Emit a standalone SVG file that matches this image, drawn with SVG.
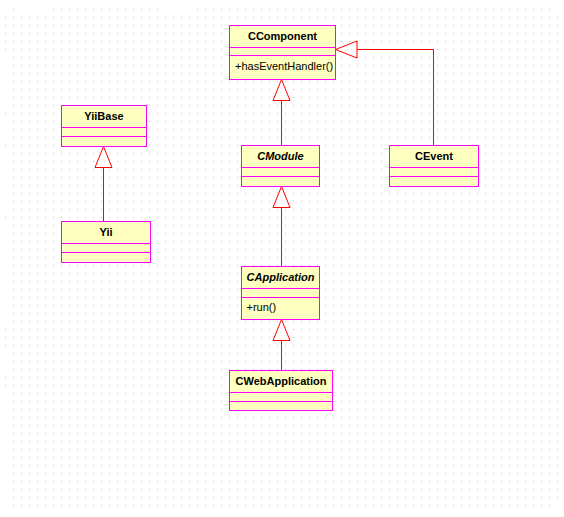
<svg xmlns="http://www.w3.org/2000/svg" width="564" height="517" viewBox="0 0 564 517">
<defs>
<pattern id="dots" x="13" y="1" width="8" height="8" patternUnits="userSpaceOnUse">
<rect x="0" y="0" width="1" height="1" fill="#c0c0c0"/>
</pattern>
<style>
.box{fill:#ffffc0;stroke:#ff00ff;stroke-width:1}
.sep{stroke:#ff00ff;stroke-width:1}
.t{font-family:"Liberation Sans",Arial,sans-serif;font-size:11px;font-weight:bold;fill:#000;text-anchor:middle}
.ti{font-style:italic}
.m{font-family:"Liberation Sans",Arial,sans-serif;font-size:11px;fill:#000}
.ln{fill:none;stroke:#ff0000;stroke-width:1}
.tri{fill:#ffffff;stroke:#ff0000;stroke-width:1}
.d{fill:#c0c0c0}
</style>
</defs>
<rect width="564" height="517" fill="#ffffff"/>
<g id="grid">
<rect x="13" y="17" width="545" height="481" fill="url(#dots)"/>
<rect x="13" y="505" width="537" height="1" fill="url(#dots)"/>
<rect x="53" y="9" width="106" height="1" fill="url(#dots)"/>
<rect x="197" y="9" width="356" height="1" fill="url(#dots)"/>
<rect class="d" x="13" y="9" width="1" height="1"/>
<rect class="d" x="5" y="17" width="1" height="1"/>
<rect class="d" x="5" y="25" width="1" height="1"/>
<rect class="d" x="5" y="33" width="1" height="1"/>
<rect class="d" x="5" y="41" width="1" height="1"/>
<rect class="d" x="5" y="49" width="1" height="1"/>
<rect class="d" x="5" y="113" width="1" height="1"/>
<rect class="d" x="5" y="145" width="1" height="1"/>
<rect class="d" x="5" y="217" width="1" height="1"/>
<rect class="d" x="5" y="329" width="1" height="1"/>
<rect class="d" x="5" y="337" width="1" height="1"/>
<rect class="d" x="5" y="345" width="1" height="1"/>
<rect class="d" x="5" y="377" width="1" height="1"/>
<rect class="d" x="5" y="385" width="1" height="1"/>
</g>
<g id="connectors">
<line class="ln" x1="103.5" y1="221" x2="103.5" y2="167.5"/>
<polygon class="tri" points="103.5,146.5 95,167.5 112,167.5"/>
<line class="ln" x1="281.5" y1="145" x2="281.5" y2="100.5"/>
<polygon class="tri" points="281.5,79.5 273,100.5 290,100.5"/>
<polyline class="ln" points="433.5,145 433.5,49.5 357,49.5"/>
<polygon class="tri" points="335.5,49.5 357,41 357,58"/>
<line class="ln" x1="281.5" y1="266" x2="281.5" y2="207.5"/>
<polygon class="tri" points="281.5,186.5 273,207.5 290,207.5"/>
<line class="ln" x1="281.5" y1="370" x2="281.5" y2="340.5"/>
<polygon class="tri" points="281.5,319.5 273,340.5 290,340.5"/>
</g>
<g id="CComponent">
<rect class="box" x="229.5" y="25.5" width="106" height="54"/>
<line class="sep" x1="229.5" y1="47.5" x2="335.5" y2="47.5"/>
<line class="sep" x1="229.5" y1="55.5" x2="335.5" y2="55.5"/>
<text class="t" x="282.5" y="40">CComponent</text>
<text class="m" x="235" y="70">+hasEventHandler()</text>
</g>
<g id="YiiBase">
<rect class="box" x="61.5" y="105.5" width="85" height="41"/>
<line class="sep" x1="61.5" y1="127.5" x2="146.5" y2="127.5"/>
<line class="sep" x1="61.5" y1="136.5" x2="146.5" y2="136.5"/>
<text class="t" x="104" y="120">YiiBase</text>
</g>
<g id="Yii">
<rect class="box" x="61.5" y="221.5" width="89" height="41"/>
<line class="sep" x1="61.5" y1="243.5" x2="150.5" y2="243.5"/>
<line class="sep" x1="61.5" y1="252.5" x2="150.5" y2="252.5"/>
<text class="t" x="106" y="236">Yii</text>
</g>
<g id="CModule">
<rect class="box" x="241.5" y="145.5" width="78" height="41"/>
<line class="sep" x1="241.5" y1="167.5" x2="319.5" y2="167.5"/>
<line class="sep" x1="241.5" y1="176.5" x2="319.5" y2="176.5"/>
<text class="t ti" x="280.5" y="160">CModule</text>
</g>
<g id="CEvent">
<rect class="box" x="389.5" y="145.5" width="89" height="41"/>
<line class="sep" x1="389.5" y1="167.5" x2="478.5" y2="167.5"/>
<line class="sep" x1="389.5" y1="176.5" x2="478.5" y2="176.5"/>
<text class="t" x="434" y="160">CEvent</text>
</g>
<g id="CApplication">
<rect class="box" x="241.5" y="266.5" width="78" height="53"/>
<line class="sep" x1="241.5" y1="288.5" x2="319.5" y2="288.5"/>
<line class="sep" x1="241.5" y1="297.5" x2="319.5" y2="297.5"/>
<text class="t ti" x="280.5" y="281">CApplication</text>
<text class="m" x="246.5" y="311">+run()</text>
</g>
<g id="CWebApplication">
<rect class="box" x="229.5" y="370.5" width="103" height="40"/>
<line class="sep" x1="229.5" y1="392.5" x2="332.5" y2="392.5"/>
<line class="sep" x1="229.5" y1="401.5" x2="332.5" y2="401.5"/>
<text class="t" x="281" y="385">CWebApplication</text>
</g>
</svg>
